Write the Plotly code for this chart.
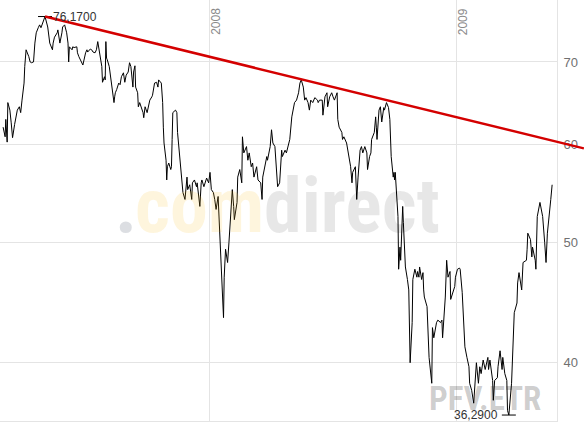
import math
import pandas as pd
import plotly.graph_objects as go

# ---------------- data ----------------
dates = [
    "2007-03-02", "2007-03-05", "2007-03-06", "2007-03-08", "2007-03-09", "2007-03-12", "2007-03-14",
    "2007-03-16", "2007-03-19", "2007-03-21", "2007-03-23", "2007-03-26", "2007-03-28", "2007-03-30",
    "2007-04-02", "2007-04-03", "2007-04-05", "2007-04-09", "2007-04-11", "2007-04-13", "2007-04-16",
    "2007-04-18", "2007-04-20", "2007-04-23", "2007-04-25", "2007-04-27", "2007-04-30", "2007-05-03",
    "2007-05-07", "2007-05-08", "2007-05-10", "2007-05-14", "2007-05-15", "2007-05-17", "2007-05-21",
    "2007-05-22", "2007-05-25", "2007-05-28", "2007-05-29", "2007-06-01", "2007-06-04", "2007-06-06",
    "2007-06-07", "2007-06-08", "2007-06-12", "2007-06-13", "2007-06-15", "2007-06-19", "2007-06-20",
    "2007-06-22", "2007-06-26", "2007-06-28", "2007-07-02", "2007-07-04", "2007-07-05", "2007-07-09",
    "2007-07-11", "2007-07-13", "2007-07-16", "2007-07-18", "2007-07-20", "2007-07-23", "2007-07-24",
    "2007-07-26", "2007-07-27", "2007-07-30", "2007-07-31", "2007-08-01", "2007-08-02", "2007-08-03",
    "2007-08-06", "2007-08-08", "2007-08-10", "2007-08-13", "2007-08-14", "2007-08-15", "2007-08-17",
    "2007-08-20", "2007-08-22", "2007-08-24", "2007-08-27", "2007-08-29", "2007-08-31", "2007-09-03",
    "2007-09-05", "2007-09-07", "2007-09-10", "2007-09-11", "2007-09-13", "2007-09-14", "2007-09-17",
    "2007-09-18", "2007-09-20", "2007-09-24", "2007-09-25", "2007-09-26", "2007-09-28", "2007-10-01",
    "2007-10-02", "2007-10-05", "2007-10-08", "2007-10-09", "2007-10-12", "2007-10-15", "2007-10-17",
    "2007-10-18", "2007-10-22", "2007-10-23", "2007-10-24", "2007-10-25", "2007-10-26", "2007-10-29",
    "2007-10-30", "2007-10-31", "2007-11-02", "2007-11-05", "2007-11-06", "2007-11-07", "2007-11-08",
    "2007-11-12", "2007-11-14", "2007-11-15", "2007-11-19", "2007-11-21", "2007-11-23", "2007-11-26",
    "2007-11-29", "2007-11-30", "2007-12-03", "2007-12-06", "2007-12-07", "2007-12-10", "2007-12-13",
    "2007-12-14", "2007-12-18", "2007-12-20", "2007-12-21", "2007-12-24", "2007-12-28", "2007-12-31",
    "2008-01-02", "2008-01-04", "2008-01-07", "2008-01-09", "2008-01-11", "2008-01-14", "2008-01-16",
    "2008-01-18", "2008-01-21", "2008-01-22", "2008-01-23", "2008-01-25", "2008-01-28", "2008-01-30",
    "2008-02-01", "2008-02-04", "2008-02-06", "2008-02-07", "2008-02-11", "2008-02-12", "2008-02-15",
    "2008-02-18", "2008-02-19", "2008-02-21", "2008-02-25", "2008-02-27", "2008-02-29", "2008-03-03",
    "2008-03-05", "2008-03-07", "2008-03-11", "2008-03-13", "2008-03-17", "2008-03-19", "2008-03-20",
    "2008-03-24", "2008-03-26", "2008-03-27", "2008-03-31", "2008-04-02", "2008-04-04", "2008-04-07",
    "2008-04-10", "2008-04-11", "2008-04-14", "2008-04-17", "2008-04-18", "2008-04-22", "2008-04-24",
    "2008-04-28", "2008-04-29", "2008-05-02", "2008-05-05", "2008-05-06", "2008-05-09", "2008-05-12",
    "2008-05-14", "2008-05-16", "2008-05-19", "2008-05-21", "2008-05-23", "2008-05-26", "2008-05-28",
    "2008-05-30", "2008-06-02", "2008-06-05", "2008-06-09", "2008-06-10", "2008-06-12", "2008-06-16",
    "2008-06-17", "2008-06-20", "2008-06-23", "2008-06-24", "2008-06-27", "2008-06-30", "2008-07-02",
    "2008-07-04", "2008-07-08", "2008-07-09", "2008-07-11", "2008-07-15", "2008-07-16", "2008-07-18",
    "2008-07-22", "2008-07-24", "2008-07-28", "2008-07-30", "2008-07-31", "2008-08-04", "2008-08-06",
    "2008-08-08", "2008-08-11", "2008-08-13", "2008-08-15", "2008-08-18", "2008-08-21", "2008-08-22",
    "2008-08-25", "2008-08-27", "2008-08-28", "2008-09-01", "2008-09-03", "2008-09-04", "2008-09-05",
    "2008-09-08", "2008-09-10", "2008-09-12", "2008-09-15", "2008-09-16", "2008-09-19", "2008-09-22",
    "2008-09-24", "2008-09-26", "2008-09-29", "2008-09-30", "2008-10-01", "2008-10-02", "2008-10-03",
    "2008-10-06", "2008-10-07", "2008-10-09", "2008-10-10", "2008-10-13", "2008-10-14", "2008-10-16",
    "2008-10-17", "2008-10-20", "2008-10-22", "2008-10-24", "2008-10-27", "2008-10-28", "2008-10-31",
    "2008-11-03", "2008-11-04", "2008-11-06", "2008-11-07", "2008-11-10", "2008-11-12", "2008-11-13",
    "2008-11-14", "2008-11-18", "2008-11-19", "2008-11-21", "2008-11-25", "2008-11-26", "2008-11-28",
    "2008-12-02", "2008-12-04", "2008-12-08", "2008-12-10", "2008-12-11", "2008-12-15", "2008-12-17",
    "2008-12-19", "2008-12-22", "2008-12-23", "2008-12-29", "2008-12-30",
    "2009-01-02", "2009-01-05", "2009-01-06", "2009-01-09", "2009-01-12", "2009-01-13", "2009-01-16",
    "2009-01-19", "2009-01-20", "2009-01-23", "2009-01-26", "2009-01-28", "2009-01-30", "2009-02-02",
    "2009-02-04", "2009-02-06", "2009-02-09", "2009-02-12", "2009-02-16", "2009-02-17", "2009-02-19",
    "2009-02-23", "2009-02-24", "2009-02-26", "2009-03-02", "2009-03-03", "2009-03-06", "2009-03-09",
    "2009-03-10", "2009-03-13", "2009-03-16", "2009-03-17", "2009-03-19", "2009-03-23", "2009-03-24",
    "2009-03-25", "2009-03-27", "2009-03-31", "2009-04-01", "2009-04-03", "2009-04-07", "2009-04-09",
    "2009-04-14", "2009-04-15", "2009-04-16", "2009-04-20", "2009-04-22", "2009-04-23", "2009-04-27",
    "2009-04-28", "2009-04-30", "2009-05-04", "2009-05-06", "2009-05-08", "2009-05-11", "2009-05-13",
    "2009-05-15", "2009-05-18", "2009-05-20", "2009-05-22",
]

prices = [
    62.0, 60.9, 62.9, 60.3, 64.9, 64.0, 62.5,
    60.8, 62.3, 63.4, 64.0, 64.4, 63.7, 65.2,
    67.3, 69.4, 71.6, 70.7, 70.0, 69.9, 70.0,
    72.5, 73.9, 74.6, 75.0, 74.6, 75.4, 76.17,
    74.7, 73.9, 72.5, 71.6, 72.5, 73.3, 73.9,
    74.3, 72.5, 73.9, 74.7, 75.0, 73.9, 72.5,
    70.0, 72.0, 71.6, 72.0, 71.9, 72.0, 71.2,
    70.7, 70.0, 69.6, 71.2, 71.6, 71.3, 71.7,
    71.6, 71.3, 71.2, 71.6, 72.7, 71.2, 70.5,
    69.4, 67.4, 68.1, 67.7, 72.7, 70.5, 70.3,
    69.4, 68.1, 67.3, 64.9, 65.6, 66.1, 66.5,
    67.3, 67.1, 68.1, 68.6, 67.4, 68.3, 68.7,
    69.9, 69.4, 66.8, 68.7, 69.5, 66.8, 66.1,
    64.4, 64.9, 64.0, 63.7, 63.1, 64.4, 63.7,
    64.0, 65.2, 65.6, 65.8, 67.3, 67.4, 66.8,
    67.7, 67.3, 66.5, 64.9, 62.0, 60.2, 58.3,
    56.2, 57.6, 58.0, 57.3, 57.6, 60.6, 63.7,
    64.0, 63.7, 61.4, 58.3, 56.5, 54.9, 54.2,
    56.5, 55.2, 55.7, 54.2, 55.9, 56.2, 55.5,
    55.9, 53.5, 55.9, 56.2, 55.5, 56.4, 55.9,
    57.0, 55.2, 54.9, 54.2, 53.2, 54.5, 51.9,
    49.4, 44.7, 43.5, 46.9, 49.4, 48.2, 50.0,
    52.5, 55.2, 53.5, 52.2, 53.9, 56.5, 57.3,
    55.9, 60.9, 59.1, 59.8, 58.3, 59.1, 57.6,
    58.0, 56.5, 57.6, 56.2, 55.9, 54.2, 56.5,
    58.0, 58.7, 58.3, 59.8, 61.7, 60.2, 59.8,
    55.9, 55.5, 55.9, 59.4, 58.7, 59.4, 59.1,
    60.2, 60.6, 63.2, 64.9, 64.9, 65.2, 66.1,
    67.3, 67.7, 66.8, 65.2, 65.5, 64.9, 64.0,
    65.2, 64.9, 65.5, 65.2, 64.9, 65.2, 65.2,
    63.4, 65.6, 66.1, 64.4, 65.6, 66.1, 65.6,
    65.2, 66.1, 62.9, 62.0, 61.4, 60.6, 60.9,
    60.2, 59.4, 57.6, 55.9, 57.0, 57.6, 54.2,
    56.5, 59.4, 59.8, 59.1, 59.8, 59.1, 57.3,
    58.7, 59.1, 60.6, 61.4, 63.2, 62.0, 60.6,
    64.0, 64.4, 62.6, 64.3, 64.0, 64.9, 64.3,
    62.9, 58.7, 56.5, 57.0, 56.2, 57.0, 55.5,
    52.5, 47.6, 49.6, 48.4, 53.5, 51.9, 48.2,
    47.8, 46.7, 45.8, 40.0, 43.1, 46.7, 47.6,
    46.9, 47.4, 46.9, 47.8, 46.7, 47.3, 45.8,
    45.2, 44.4, 43.1, 40.4, 38.5, 42.7, 41.9,
    43.1, 43.3, 43.1, 43.3, 41.9, 45.2, 48.4,
    46.9, 47.4, 45.0, 46.1, 46.9,
    47.6, 47.7, 47.6, 45.6, 41.7, 41.2, 40.4,
    39.7, 38.5, 38.0, 37.1, 38.5, 40.0, 38.5,
    39.7, 39.2, 40.2, 39.5, 40.4, 39.5, 40.2,
    38.7, 37.3, 38.7, 38.9, 39.7, 40.9, 39.5,
    40.4, 39.2, 38.7, 36.6, 36.29, 38.5, 40.0,
    41.9, 43.9, 44.7, 46.4, 47.3, 45.8, 48.2,
    48.4, 49.4, 50.9, 50.3, 48.7, 49.6, 48.4,
    47.6, 52.5, 53.9, 53.2, 52.5, 50.0, 48.2,
    50.9, 52.5, 54.2, 55.7,
]

# resistance (trend) line: from the high, read end point at the right edge
trend_end_date = "2009-07-08"
trend_end_value = 59.6

y_ticks = [40, 50, 60, 70]
year_labels = ["2008", "2009"]
year_dates = ["2008-01-01", "2009-01-01"]

symbol_text = "PFV.ETR"
watermark_parts = [".", "com", "direct"]

# ---------------- figure ----------------
W, H = 584, 422
PLOT_W = 557
PLOT_H = 421
FONT = "Liberation Sans, Arial, sans-serif"
NARROW = "Liberation Sans Narrow, Arial Narrow, Roboto Condensed, Liberation Sans, sans-serif"
GRID = "#e4e4e4"

x_start = pd.Timestamp("2007-02-25 10:00")
x_end = pd.Timestamp("2009-05-29 05:00")
x2_end = x_start + (x_end - x_start) * (W / PLOT_W)
y_range = [math.log10(35.89), math.log10(78.55)]

imax = prices.index(max(prices))
imin = prices.index(min(prices))


def fmt(v):
    return f"{v:.4f}".replace(".", ",")


fig = go.Figure()

fig.add_trace(go.Scatter(
    x=dates, y=prices, mode="lines",
    line=dict(color="#000000", width=1),
    xaxis="x", yaxis="y", hoverinfo="skip",
))

fig.add_trace(go.Scatter(
    x=[dates[imax], dates[imin]], y=[prices[imax], prices[imin]],
    mode="markers",
    marker=dict(symbol="line-ew", size=10, color="#000000",
                line=dict(color="#000000", width=1)),
    xaxis="x", yaxis="y", hoverinfo="skip",
))

fig.add_trace(go.Scatter(
    x=[dates[imax], trend_end_date], y=[prices[imax], trend_end_value],
    mode="lines", line=dict(color="#d40000", width=2.5),
    xaxis="x2", yaxis="y2", hoverinfo="skip",
))

annotations = []
# watermark (semi-transparent so the price line shows through)
wm_colors = ["rgba(20,35,60,0.15)", "rgba(245,190,30,0.15)", "rgba(0,0,0,0.095)"]
wm_left = [113, 133, 262]
for part, col, xl in zip(watermark_parts, wm_colors, wm_left):
    annotations.append(dict(
        xref="paper", yref="paper", x=xl / W, y=1 - 206 / PLOT_H,
        xanchor="left", yanchor="middle", showarrow=False,
        text=f"<b>{part}</b>",
        font=dict(family=NARROW, size=76, color=col),
    ))
annotations.append(dict(
    xref="paper", yref="paper", x=427 / W, y=1 - 398 / PLOT_H,
    xanchor="left", yanchor="middle", showarrow=False,
    text=f"<b>{symbol_text}</b>",
    font=dict(family=NARROW, size=33, color="rgba(0,0,0,0.2)"),
))
# max / min labels
annotations.append(dict(
    xref="x", yref="y", x=dates[imax], y=math.log10(prices[imax]),
    xanchor="left", yanchor="middle", xshift=6, showarrow=False,
    text=fmt(prices[imax]), font=dict(family=FONT, size=12, color="#333333"),
))
annotations.append(dict(
    xref="x", yref="y", x=dates[imin], y=math.log10(prices[imin]),
    xanchor="right", yanchor="middle", xshift=-9, showarrow=False,
    text=fmt(prices[imin]), font=dict(family=FONT, size=12, color="#333333"),
))
# year labels
for lab, d in zip(year_labels, year_dates):
    annotations.append(dict(
        xref="x", yref="paper", x=d, y=1, yshift=-6, xshift=-3,
        xanchor="left", yanchor="top", textangle=-90, showarrow=False,
        text=lab, font=dict(family=FONT, size=12, color="#8a8a8a"),
    ))

fig.update_layout(
    template="none",
    width=W, height=H,
    margin=dict(l=0, r=0, t=0, b=H - PLOT_H),
    paper_bgcolor="#ffffff", plot_bgcolor="rgba(0,0,0,0)",
    showlegend=False,
    font=dict(family=FONT, size=12, color="#666666"),
    xaxis=dict(
        domain=[0, PLOT_W / W], anchor="y", type="date",
        range=[str(x_start), str(x_end)],
        tick0="2008-01-01", dtick="M12",
        showgrid=True, gridcolor=GRID, gridwidth=1,
        showticklabels=False, ticks="", zeroline=False,
        showline=True, linecolor=GRID, linewidth=1,
    ),
    yaxis=dict(
        domain=[0, 1], anchor="x", type="log", side="right",
        range=y_range, tickvals=y_ticks, ticktext=[str(t) for t in y_ticks],
        showgrid=True, gridcolor=GRID, gridwidth=1,
        showline=True, linecolor=GRID, linewidth=1,
        ticks="", zeroline=False, automargin=False, ticklabelstandoff=3,
        tickfont=dict(family=FONT, size=13, color="#707070"),
    ),
    xaxis2=dict(
        domain=[0, 1], anchor="y2", type="date",
        range=[str(x_start), str(x2_end)], visible=False,
    ),
    yaxis2=dict(
        domain=[0, 1], anchor="x2", type="log",
        range=y_range, visible=False,
    ),
    annotations=annotations,
)

fig.write_html(
    "out.html",
    config={"displayModeBar": False, "staticPlot": True},
    post_script="document.body.style.margin='0px';",
)
